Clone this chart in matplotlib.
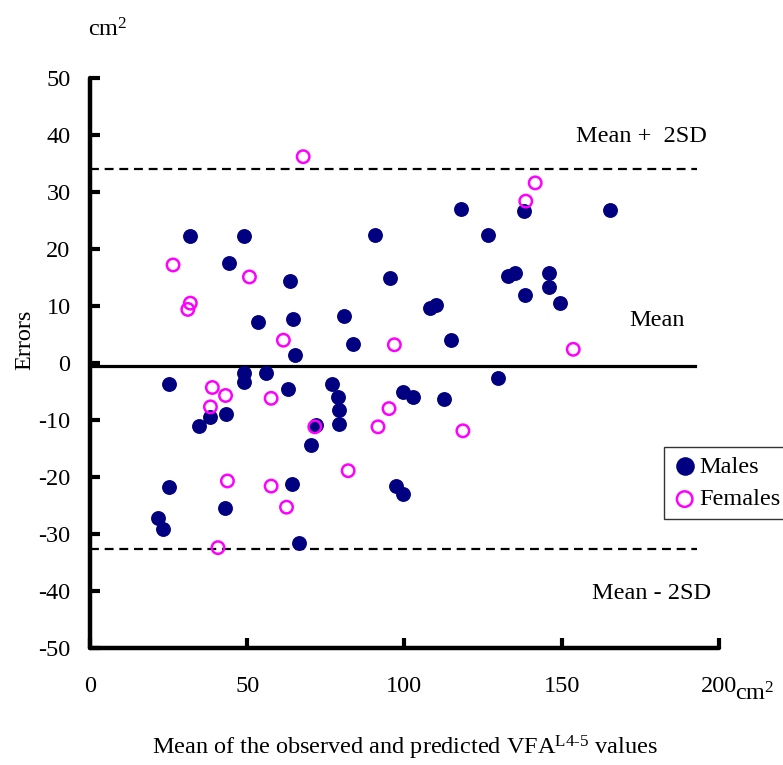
import matplotlib
matplotlib.use("Agg")
import matplotlib.pyplot as plt
import numpy as np

plt.rcParams["font.family"] = ["Liberation Serif", "DejaVu Serif"]
plt.rcParams["mathtext.fontset"] = "custom"
plt.rcParams["mathtext.rm"] = "Liberation Serif"
plt.rcParams["mathtext.it"] = "Liberation Serif:italic"
plt.rcParams["axes.unicode_minus"] = False

# Bland-Altman data
males_mean = [21.5, 23.3, 25.1, 25.0, 31.9, 48.9, 44.3, 53.3, 63.7, 64.5,
              65.2, 48.9, 48.9, 55.9, 63.0, 38.1, 34.7, 43.1, 42.9, 64.3,
              66.5, 70.3, 71.9, 77.0, 78.9, 79.3, 79.3, 99.6, 102.8, 112.6,
              129.8, 97.3, 99.6, 90.8, 118.1, 126.5, 138.1, 95.5, 80.9, 83.7,
              108.1, 110.2, 114.8, 133.0, 135.1, 146.0, 146.0, 138.3, 149.4, 165.3]
males_err = [-27.2, -29.2, -21.8, -3.7, 22.3, 22.3, 17.5, 7.2, 14.4, 7.7,
             1.4, -1.8, -3.4, -1.7, -4.6, -9.5, -11.0, -8.9, -25.4, -21.2,
             -31.6, -14.4, -10.8, -3.6, -6.0, -8.3, -10.7, -5.1, -6.0, -6.4,
             -2.6, -21.5, -23.0, 22.5, 27.0, 22.5, 26.6, 15.0, 8.3, 3.3,
             9.7, 10.1, 4.1, 15.3, 15.8, 15.8, 13.4, 12.0, 10.5, 26.8]

females_mean = [67.8, 26.4, 31.9, 31.1, 50.7, 61.5, 38.9, 43.1, 38.3, 57.6,
                43.7, 57.6, 62.5, 40.7, 96.8, 141.6, 138.6, 153.7, 95.1, 91.6,
                118.6, 82.1, 71.5]
females_err = [36.2, 17.2, 10.5, 9.4, 15.1, 4.0, -4.3, -5.7, -7.7, -6.2,
               -20.7, -21.6, -25.3, -32.4, 3.2, 31.6, 28.4, 2.4, -8.0, -11.2,
               -11.9, -18.9, -11.2]

mean_err = -0.5
upper_loa = 34.0
lower_loa = -32.6

x_ticks = [0, 50, 100, 150, 200]
y_ticks = [-50, -40, -30, -20, -10, 0, 10, 20, 30, 40, 50]

fig = plt.figure(figsize=(7.83, 7.65), dpi=100)
ax = fig.add_axes([0.115, 0.153, 0.803, 0.745])

ax.plot([0, 192.4], [mean_err, mean_err], color="black", lw=2.3, zorder=2)
ax.plot([0, 193], [upper_loa, upper_loa], color="black", lw=1.6,
        dashes=(4, 2.6), zorder=2)
ax.plot([0, 193], [lower_loa, lower_loa], color="black", lw=1.6,
        dashes=(4, 2.6), zorder=2)

ax.scatter(males_mean, males_err, s=115, color="#000080", label="Males",
           zorder=3, linewidths=0)
ax.scatter(females_mean, females_err, s=80, facecolors="none",
           edgecolors="#FF00FF", linewidths=1.8, label="Females", zorder=4)

ax.text(175.5, 39.8, "Mean +  2SD", fontsize=17.5, ha="center", va="center")
ax.text(180.2, 7.4, "Mean", fontsize=17.5, ha="center", va="center")
ax.text(178.6, -40.5, "Mean - 2SD", fontsize=17.5, ha="center", va="center")

ax.set_xlim(0, 200)
ax.set_ylim(-50, 50)
ax.set_xticks(x_ticks)
ax.set_yticks(y_ticks)
ax.tick_params(direction="in", length=7, width=3, labelsize=17.5)
ax.tick_params(axis="x", pad=20)
ax.tick_params(axis="y", pad=14)

for side in ["top", "right"]:
    ax.spines[side].set_visible(False)
for side in ["left", "bottom"]:
    ax.spines[side].set_linewidth(3.2)
    ax.spines[side].set_capstyle("round")

fig.text(25 / 783, 1 - 340 / 765, "Errors", rotation=90, fontsize=17.5,
         ha="center", va="center")
fig.text(405 / 783, 1 - 748 / 765,
         r"Mean of the observed and predicted VFA$^{\text{L4-5}}$ values",
         fontsize=17.5, ha="center", va="center")
fig.text(108 / 783, 1 - 30 / 765, r"cm$^2$", fontsize=17.5, ha="center",
         va="center")
fig.text(755 / 783, 1 - 694 / 765, r"cm$^2$", fontsize=17.5, ha="center",
         va="center")

leg = ax.legend(loc="upper left", bbox_to_anchor=(664 / 783, 1 - 447 / 765),
                bbox_transform=fig.transFigure, fontsize=17.5, frameon=True,
                fancybox=False, handletextpad=0.1, handlelength=1.0,
                borderpad=0.35, labelspacing=0.45, borderaxespad=0,
                markerscale=1.25)
leg.get_frame().set_edgecolor("black")
leg.get_frame().set_linewidth(1.0)

fig.savefig("out.png", dpi=100)
